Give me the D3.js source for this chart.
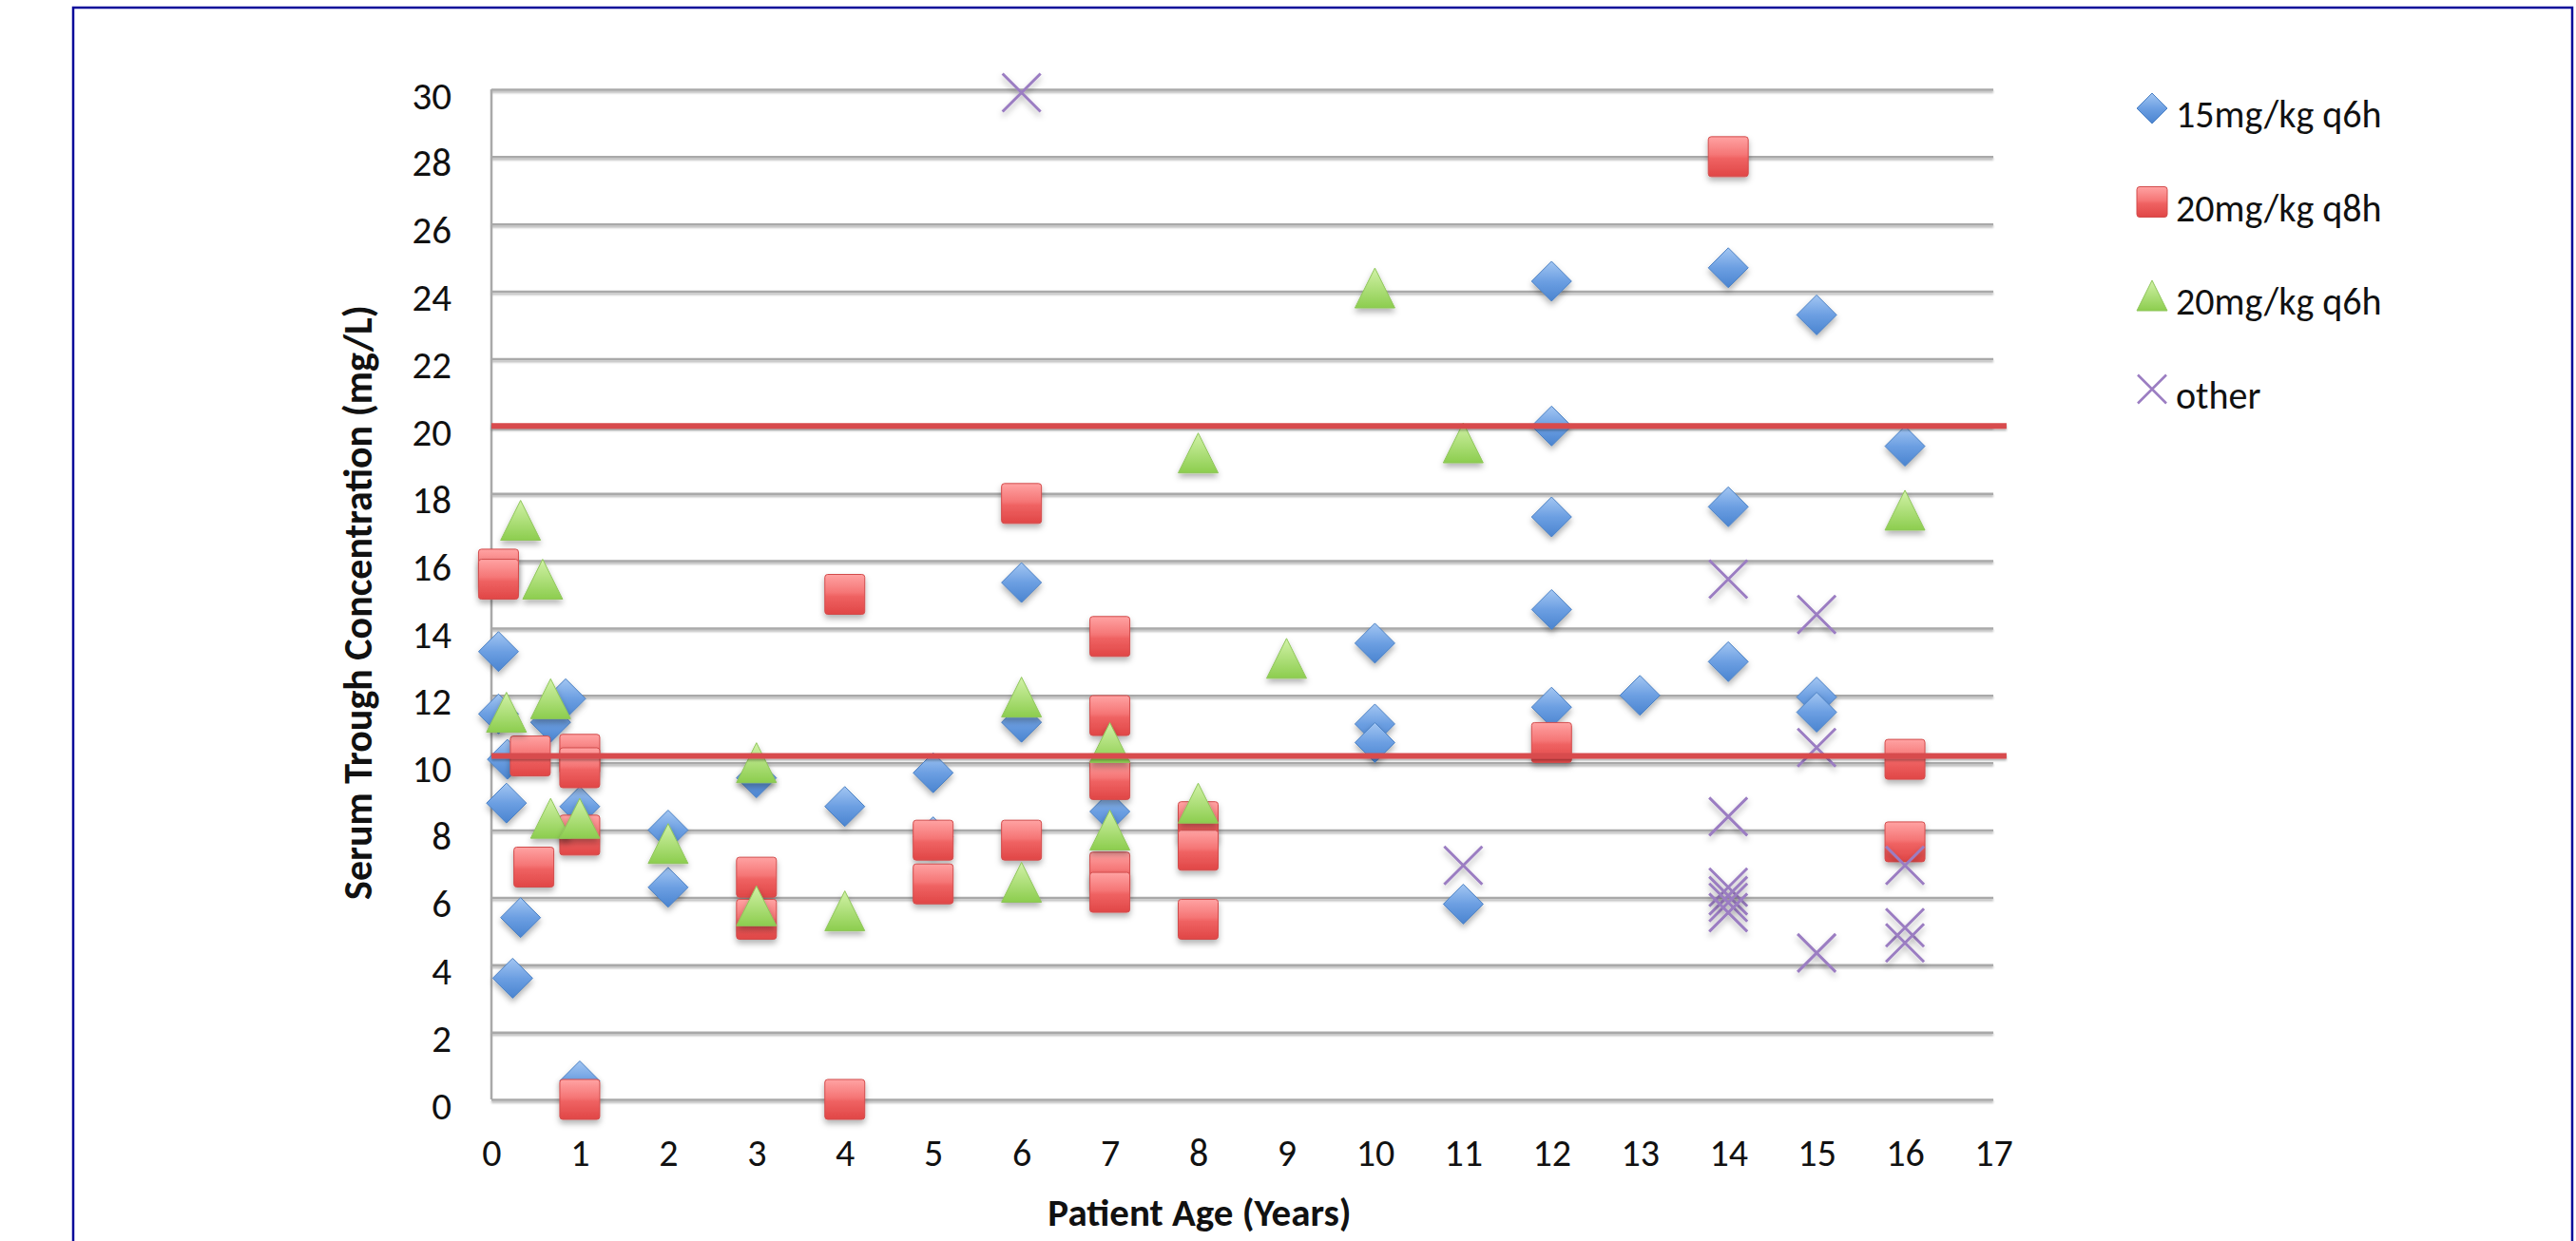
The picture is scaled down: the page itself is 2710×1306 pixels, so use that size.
<!DOCTYPE html>
<html>
<head>
<meta charset="utf-8">
<script src="https://cdn.jsdelivr.net/npm/d3@7"></script>
<style>
  body { margin:0; background:#fff; }
  svg text { font-family: Carlito, Calibri, Lato, "Open Sans", sans-serif; fill:#111; }
</style>
</head>
<body>
<script>

// trough levels: [age in years, mg/L]
var q6h15 = [
  [0.08,13.3],[0.08,11.45],[0.18,10.1],[0.17,8.8],[0.33,5.4],[0.24,3.6],
  [0.84,11.9],[0.67,11.2],[1,8.7],[1,0.55],[2,8.0],[2,6.3],[3,9.55],
  [4,8.7],[5,9.7],[5,7.8],[6,15.35],[6,11.2],[7,8.55],[10,13.55],
  [10,11.15],[10,10.6],[11,5.8],[12,24.3],[12,20.0],[12,17.3],[12,14.55],
  [12,11.65],[13,12.0],[14,24.7],[14,17.6],[14,13.0],[15,23.3],[15,11.95],
  [15,11.5],[16,19.4]
];
var q8h20 = [
  [0.08,15.75],[0.08,15.45],[0.44,10.2],[1,10.25],[1,9.85],[0.48,6.9],
  [1,7.85],[1,0],[3,6.6],[3,5.35],[4,15.0],[4,0],[5,7.7],[5,6.4],
  [6,17.7],[6,7.7],[7,13.75],[7,11.4],[7,9.5],[7,6.75],[7,6.15],
  [8,8.25],[8,7.4],[8,5.35],[12,10.6],[14,28],[16,10.1],[16,7.65]
];
var q6h20 = [
  [0.33,17.2],[0.58,15.45],[0.17,11.5],[0.67,11.9],[0.67,8.35],[1,8.35],
  [2,7.6],[3,10.0],[3,5.75],[4,5.6],[6,11.95],[6,6.45],[7,10.6],[7,8.0],
  [8,19.2],[8,8.8],[9,13.1],[10,24.1],[11,19.5],[16,17.5]
];
var other = [
  [6,29.9],[11,6.95],[14,15.45],[14,8.4],[14,6.3],[14,6.05],[14,5.85],
  [14,5.55],[15,14.4],[15,10.45],[15,4.35],[16,6.95],[16,5.1],[16,4.65]
];

var seriesNames = ["15mg/kg q6h","20mg/kg q8h","20mg/kg q6h","other"];
var targetLines = [20, 10.2];
var targetSpan = [0, 17.15];
var xTicks = d3.range(0, 18, 1);
var yTicks = d3.range(0, 31, 2);

var W = 2710, H = 1306;
var margins = {top:94, left:517, right:613, bottom:149};
var width = W - margins.left - margins.right;
var height = H - margins.top - margins.bottom;

var xScale = d3.scaleLinear().domain([0,17]).range([0,width]);
var yScale = d3.scaleLinear().domain([0,30]).range([height,0]);

var svg = d3.select("body").append("svg")
    .attr("width",W)
    .attr("height",H);

var defs = svg.append("defs");

var shadow = defs.append("filter").attr("id","shadow")
    .attr("x","-30%").attr("y","-30%").attr("width","160%").attr("height","170%");
shadow.append("feDropShadow")
    .attr("dx",0).attr("dy",4).attr("stdDeviation",3)
    .attr("flood-color","#000").attr("flood-opacity",0.3);

// flat lines have no height, so this one works in user space
var lineShadow = defs.append("filter").attr("id","lineShadow")
    .attr("filterUnits","userSpaceOnUse")
    .attr("x",-600).attr("y",-200).attr("width",3200).attr("height",1600);
lineShadow.append("feDropShadow")
    .attr("dx",0).attr("dy",2).attr("stdDeviation",1.2)
    .attr("flood-color","#000").attr("flood-opacity",0.3);

var makeGrad = function(id, stops) {
  var g = defs.append("linearGradient").attr("id",id)
      .attr("x1",0).attr("y1",0).attr("x2",0).attr("y2",1);
  stops.forEach(function(s){
    g.append("stop").attr("offset",s[0]).attr("stop-color",s[1]);
  });
};
makeGrad("gBlue",[["0%","#a3c6f2"],["50%","#6c9fe2"],["100%","#4a84d0"]]);
makeGrad("gRed",[["0%","#ffa3a3"],["45%","#f57676"],["55%","#ef6262"],["100%","#e04646"]]);
makeGrad("gGreen",[["0%","#d2f2a8"],["100%","#8ccd4e"]]);

// marker shapes, s = full width
var diamond = function(s){ var h=s/2; return "M0,"+(-h)+"L"+h+",0L0,"+h+"L"+(-h)+",0Z"; };
var square = function(s){ var h=s/2; return "M"+(-h+3)+","+(-h)+"H"+(h-3)+"Q"+h+","+(-h)+" "+h+","+(-h+3)+"V"+(h-3)+"Q"+h+","+h+" "+(h-3)+","+h+"H"+(-h+3)+"Q"+(-h)+","+h+" "+(-h)+","+(h-3)+"V"+(-h+3)+"Q"+(-h)+","+(-h)+" "+(-h+3)+","+(-h)+"Z"; };
var triangle = function(s){ var h=s/2; return "M0,"+(-h)+"L"+h+","+h+"L"+(-h)+","+h+"Z"; };
var cross = function(s){ var h=s/2; return "M"+(-h)+","+(-h)+"L"+h+","+h+"M"+h+","+(-h)+"L"+(-h)+","+h; };

var styles = [
  {data:q6h15, shape:diamond, size:42, fill:"url(#gBlue)", stroke:"#4a80c4", sw:1},
  {data:q8h20, shape:square, size:42, fill:"url(#gRed)", stroke:"#d24c4c", sw:1},
  {data:q6h20, shape:triangle, size:42, fill:"url(#gGreen)", stroke:"#8fc65a", sw:1},
  {data:other, shape:cross, size:40, fill:"none", stroke:"#9b7dc2", sw:3}
];

// outer frame
svg.append("rect")
    .attr("x",77).attr("y",8)
    .attr("width",2629).attr("height",1400)
    .attr("fill","none")
    .attr("stroke","#0a0a9a")
    .attr("stroke-width",2.5);

var plot = svg.append("g")
    .attr("transform","translate("+margins.left+","+margins.top+")");

// horizontal gridlines + y labels
var yAxis = plot.append("g")
    .call(d3.axisLeft(yScale).tickValues(yTicks).tickSize(-width).tickPadding(42));
yAxis.select(".domain").remove();
yAxis.selectAll("line")
    .attr("stroke","#a9a9a9")
    .attr("stroke-width",2.5)
    .attr("filter","url(#lineShadow)");
yAxis.selectAll("text")
    .attr("dy","0.49em")
    .style("font-size","41px");

// x labels
var xAxis = plot.append("g")
    .attr("transform","translate(0,"+height+")")
    .call(d3.axisBottom(xScale).tickValues(xTicks).tickSize(0).tickPadding(42));
xAxis.select(".domain").remove();
xAxis.selectAll("text").style("font-size","40px");

// vertical axis line
plot.append("line")
    .attr("x1",xScale(0)).attr("x2",xScale(0))
    .attr("y1",yScale(30)).attr("y2",yScale(0))
    .attr("stroke","#a9a9a9")
    .attr("stroke-width",2.5);

// points
styles.forEach(function(st){
  plot.append("g").selectAll("path")
      .data(st.data)
      .enter()
      .append("path")
      .attr("transform",function(d){return "translate("+xScale(d[0])+","+yScale(d[1])+")";})
      .attr("d",st.shape(st.size))
      .attr("fill",st.fill)
      .attr("stroke",st.stroke)
      .attr("stroke-width",st.sw)
      .attr("filter","url(#shadow)");
});

// target range lines
plot.append("g").selectAll("line")
    .data(targetLines)
    .enter()
    .append("line")
    .attr("x1",xScale(targetSpan[0]))
    .attr("x2",xScale(targetSpan[1]))
    .attr("y1",function(d){return yScale(d);})
    .attr("y2",function(d){return yScale(d);})
    .attr("stroke","#d84c4e")
    .attr("stroke-width",6)
    .attr("filter","url(#lineShadow)");

// axis titles
svg.append("text")
    .attr("x",1262).attr("y",1290)
    .attr("text-anchor","middle")
    .style("font-size","41px")
    .style("font-weight","bold")
    .text("Patient Age (Years)");

svg.append("text")
    .attr("transform","translate(391,634) rotate(-90)")
    .attr("text-anchor","middle")
    .style("font-size","42px")
    .style("font-weight","bold")
    .text("Serum Trough Concentration (mg/L)");

// legend
var legend = svg.append("g")
    .attr("transform","translate(2264,0)");
var legendLines = legend.selectAll("g")
    .data(seriesNames)
    .enter()
    .append("g")
    .attr("transform",function(d,i){return "translate(0,"+(114+i*98.5)+")";});

legendLines.append("path")
    .attr("d",function(d,i){return styles[i].shape(i==3?30:32);})
    .attr("fill",function(d,i){return styles[i].fill;})
    .attr("stroke",function(d,i){return styles[i].stroke;})
    .attr("stroke-width",function(d,i){return i==3?2.5:1;});

legendLines.append("text")
    .attr("x",25)
    .attr("y",20)
    .style("font-size","40px")
    .text(function(d){return d;});

</script>
</body>
</html>
